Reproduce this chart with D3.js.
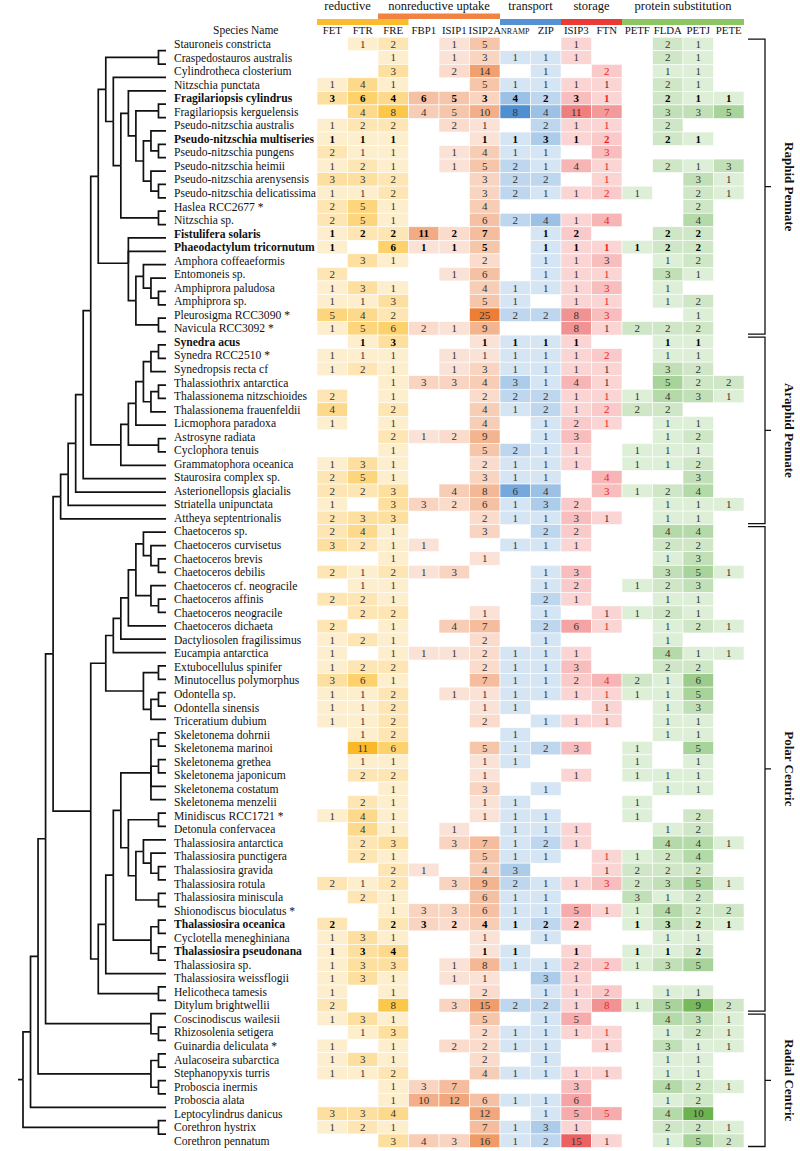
<!DOCTYPE html>
<html>
<head>
<meta charset="utf-8">
<script src="https://cdn.jsdelivr.net/npm/d3@7"></script>
<style>
  body { margin: 0; background: #fff; }
  text { font-family: "Liberation Serif", "Times New Roman", serif; }
</style>
</head>
<body>
<div class="plot"></div>
<script>
/* species, top to bottom */
const species = [
  "Stauroneis constricta", "Craspedostauros australis", "Cylindrotheca closterium", "Nitzschia punctata",
  "Fragilariopsis cylindrus", "Fragilariopsis kerguelensis", "Pseudo-nitzschia australis", "Pseudo-nitzschia multiseries",
  "Pseudo-nitzschia pungens", "Pseudo-nitzschia heimii", "Pseudo-nitzschia arenysensis", "Pseudo-nitzschia delicatissima",
  "Haslea RCC2677 *", "Nitzschia sp.", "Fistulifera solaris", "Phaeodactylum tricornutum",
  "Amphora coffeaeformis", "Entomoneis sp.", "Amphiprora paludosa", "Amphiprora sp.",
  "Pleurosigma RCC3090 *", "Navicula RCC3092 *", "Synedra acus", "Synedra RCC2510 *",
  "Synedropsis recta cf", "Thalassiothrix antarctica", "Thalassionema nitzschioides", "Thalassionema frauenfeldii",
  "Licmophora paradoxa", "Astrosyne radiata", "Cyclophora tenuis", "Grammatophora oceanica",
  "Staurosira complex sp.", "Asterionellopsis glacialis", "Striatella unipunctata", "Attheya septentrionalis",
  "Chaetoceros sp.", "Chaetoceros curvisetus", "Chaetoceros brevis", "Chaetoceros debilis",
  "Chaetoceros cf. neogracile", "Chaetoceros affinis", "Chaetoceros neogracile", "Chaetoceros dichaeta",
  "Dactyliosolen fragilissimus", "Eucampia antarctica", "Extubocellulus spinifer", "Minutocellus polymorphus",
  "Odontella sp.", "Odontella sinensis", "Triceratium dubium", "Skeletonema dohrnii",
  "Skeletonema marinoi", "Skeletonema grethea", "Skeletonema japonicum", "Skeletonema costatum",
  "Skeletonema menzelii", "Minidiscus RCC1721 *", "Detonula confervacea", "Thalassiosira antarctica",
  "Thalassiosira punctigera", "Thalassiosira gravida", "Thalassiosira rotula", "Thalassiosira miniscula",
  "Shionodiscus bioculatus *", "Thalassiosira oceanica", "Cyclotella meneghiniana", "Thalassiosira pseudonana",
  "Thalassiosira sp.", "Thalassiosira weissflogii", "Helicotheca tamesis", "Ditylum brightwellii",
  "Coscinodiscus wailesii", "Rhizosolenia setigera", "Guinardia deliculata *", "Aulacoseira subarctica",
  "Stephanopyxis turris", "Proboscia inermis", "Proboscia alata", "Leptocylindrus danicus",
  "Corethron hystrix", "Corethron pennatum"
];

const boldSpecies = [
  "Fragilariopsis cylindrus", "Pseudo-nitzschia multiseries", "Fistulifera solaris",
  "Phaeodactylum tricornutum", "Synedra acus", "Thalassiosira oceanica", "Thalassiosira pseudonana"
];

const genes = ["FET", "FTR", "FRE", "FBP1", "ISIP1", "ISIP2A", "NRAMP", "ZIP", "ISIP3", "FTN", "PETF", "FLDA", "PETJ", "PETE"];

/* functional groups: first and last gene of each bar */
const groupNames = ["reductive", "nonreductive uptake", "transport", "storage", "protein substitution"];
const groupFirst = ["FET", "FRE", "NRAMP", "ISIP3", "PETF"];
const groupLast = ["FRE", "ISIP2A", "ZIP", "FTN", "PETE"];
const geneFamily = [0, 0, 0, 1, 1, 1, 2, 2, 3, 3, 4, 4, 4, 4];

/* gene copy numbers, one row per species, in gene order (0 = none) */
const counts = [
  [0,1,2,0,1,5,0,0,1,0,0,2,1,0],
  [0,0,1,0,1,3,1,1,1,0,0,2,1,0],
  [0,0,3,0,2,14,0,1,0,2,0,1,1,0],
  [1,4,1,0,0,5,1,1,1,1,0,2,1,0],
  [3,6,4,6,5,3,4,2,3,1,0,2,1,1],
  [0,4,8,4,5,10,8,4,11,7,0,3,3,5],
  [1,2,2,0,2,1,0,2,1,1,0,2,0,0],
  [1,1,1,0,0,1,1,3,1,2,0,2,1,0],
  [2,1,1,0,1,4,1,1,0,3,0,0,0,0],
  [1,2,1,0,1,5,2,1,4,1,0,2,1,3],
  [3,3,2,0,0,3,2,2,0,1,0,0,3,1],
  [1,1,2,0,0,3,2,1,1,2,1,0,2,1],
  [2,5,1,0,0,4,0,0,0,0,0,0,2,0],
  [2,5,1,0,0,6,2,4,1,4,0,0,4,0],
  [1,2,2,11,2,7,0,1,2,0,0,2,2,0],
  [1,0,6,1,1,5,0,1,1,1,1,2,2,0],
  [0,3,1,0,0,2,0,1,1,3,0,1,2,0],
  [2,0,0,0,1,6,0,1,1,1,0,3,1,0],
  [1,3,1,0,0,4,1,1,1,3,0,1,0,0],
  [1,1,3,0,0,5,1,0,1,1,0,1,2,0],
  [5,4,2,0,0,25,2,2,8,3,0,0,1,0],
  [1,5,6,2,1,9,0,0,8,1,2,2,2,0],
  [0,1,3,0,0,1,1,1,1,0,0,1,1,0],
  [1,1,1,0,1,1,1,1,1,2,0,1,1,0],
  [1,2,1,0,1,3,1,1,1,1,0,3,2,0],
  [0,0,1,3,3,4,3,1,4,1,0,5,2,2],
  [2,0,1,0,0,2,2,2,1,1,1,4,3,1],
  [4,0,2,0,0,4,1,2,1,2,2,2,0,0],
  [1,0,1,0,0,4,0,1,2,1,0,1,1,0],
  [0,0,2,1,2,9,0,1,3,0,0,1,2,0],
  [0,0,1,0,0,5,2,1,1,0,1,1,1,0],
  [1,3,1,0,0,2,1,1,1,0,1,1,2,0],
  [2,5,1,0,0,3,1,1,0,4,0,0,3,0],
  [2,2,3,0,4,8,6,4,0,3,1,2,4,0],
  [1,0,3,3,2,6,1,3,2,0,0,1,1,1],
  [2,3,3,0,0,2,1,1,3,1,0,1,1,0],
  [2,4,1,0,0,3,0,2,2,0,0,4,4,0],
  [3,2,1,1,0,0,1,1,1,0,0,2,2,0],
  [0,0,1,0,0,1,0,0,0,0,0,1,3,0],
  [2,1,2,1,3,0,0,1,3,0,0,3,5,1],
  [0,1,1,0,0,0,0,1,2,0,1,2,3,0],
  [2,2,1,0,0,0,0,2,1,0,0,1,1,0],
  [0,2,2,0,0,1,0,1,0,1,1,2,1,0],
  [2,0,1,0,4,7,0,2,6,1,0,1,2,1],
  [1,2,1,0,0,2,0,1,0,0,0,1,0,0],
  [1,0,1,1,1,2,1,1,1,0,0,4,1,1],
  [1,2,2,0,0,2,1,1,3,0,0,2,2,0],
  [3,6,1,0,0,7,1,1,2,4,2,1,6,0],
  [1,1,2,0,1,1,1,1,1,1,1,1,5,0],
  [1,1,2,0,0,1,1,0,0,1,0,1,3,0],
  [1,1,2,0,0,2,0,1,1,1,0,1,1,0],
  [0,1,2,0,0,0,1,0,0,0,0,1,1,0],
  [0,11,6,0,0,5,1,2,3,0,1,0,5,0],
  [0,1,1,0,0,1,1,0,0,0,1,0,1,0],
  [0,2,2,0,0,1,0,0,1,0,1,1,1,0],
  [0,0,1,0,0,3,0,1,0,0,0,1,1,0],
  [0,2,1,0,0,1,1,0,0,0,1,0,0,0],
  [1,4,1,0,0,1,1,1,0,0,1,0,2,0],
  [0,4,1,0,1,0,1,1,1,0,0,1,2,0],
  [0,2,3,0,3,7,1,2,1,0,0,4,4,1],
  [0,2,1,0,0,5,1,1,0,1,1,2,4,0],
  [0,0,2,1,0,4,3,0,0,1,2,2,2,0],
  [2,1,2,0,3,9,2,1,1,3,2,3,5,1],
  [0,2,1,0,0,6,1,1,0,0,3,1,2,0],
  [0,0,1,3,3,6,1,1,5,1,1,4,2,2],
  [2,0,2,3,2,4,1,2,2,0,1,3,2,1],
  [1,3,1,0,0,1,0,1,0,0,0,1,1,0],
  [1,3,4,0,0,1,1,0,1,0,1,1,2,0],
  [1,3,3,0,1,8,1,1,2,2,1,3,5,0],
  [1,3,1,0,1,1,0,3,1,0,0,0,0,0],
  [1,0,1,0,0,2,0,1,1,2,0,1,1,0],
  [2,0,8,0,3,15,2,2,1,8,1,5,9,2],
  [1,3,1,0,0,5,0,1,5,0,0,4,3,1],
  [0,1,3,0,0,2,1,1,1,1,0,1,2,1],
  [1,0,1,0,2,2,1,1,0,1,0,3,1,1],
  [1,3,1,0,0,2,0,1,0,0,0,1,1,0],
  [1,1,2,0,0,4,1,1,1,1,0,1,1,0],
  [0,0,1,3,7,0,0,0,3,0,0,4,2,1],
  [0,0,1,10,12,6,1,1,6,0,0,1,2,0],
  [3,3,4,0,0,12,0,1,5,5,0,4,10,0],
  [1,2,1,0,0,7,1,3,1,0,0,2,2,1],
  [0,0,3,4,3,16,1,2,15,1,0,1,5,2]
];

/* rows (1-based) whose FTN number is printed in red */
const redFTN = [3,5,6,7,8,9,10,11,12,14,16,18,19,20,21,24,27,28,29,33,34,44,48,49,61,63,69,71,72,74,80];

/* clades on the right: name, first row, last row */
const cladeNames = ["Raphid Pennate", "Araphid Pennate", "Polar Centric", "Radial Centric"];
const cladeFirst = [1, 23, 37, 73];
const cladeLast = [22, 36, 72, 82];

/* tree topology, leaves are row numbers */
const raphid = [
  [[1,2], [3, [[4, [[5,6], [[7,[8,9]], [10,[11,12]]]]], [13,14]]]],
  [15, 16, [[17,[18,[19,20]]], [21,22]]]
];
const araphid = [[[[[[23,24],25], [[26,27],28]], 29], [30,31]], 32];
const pennates = [[[[[raphid, araphid], 33], 34], 35], 36];
const chaeto = [[37,[38,[39,40]]], [41,[42,43]]];
const polarA = [[[[chaeto, 44], 45], 46], [[47,48], [[49,50],51]]];
const thalass = [[[[[[52,53],[54,55],56,57], [[58,59], [[60,[61,[62,63]]], [64,65]]]], [[66,67],[68,69]]], 70], [71,72]];
const tree = [[[[[pennates, [polarA, thalass]], [73,[74,75]]], [[76,77],[78,79]]], 80], [81,82]];

/* colour ramps per family */
const familyStops = [
  [1, 2, 4, 8, 11],
  [1, 5, 12, 25],
  [1, 2, 4, 8],
  [1, 3, 8, 15],
  [1, 2, 5, 10]
];
const familyRamps = [
  ["#fdeecd", "#fde6b4", "#fdd98c", "#fcc84a", "#fbb92a"],
  ["#fbe2d7", "#f6c6ab", "#f1a67b", "#ee7e36"],
  ["#d5e5f3", "#bed6ee", "#9cc1e5", "#4e8fd2"],
  ["#fbd4d4", "#f8bdbd", "#f29393", "#ec6262"],
  ["#deefd8", "#cfe7c7", "#a8d39a", "#6cb24f"]
];
const barColors = ["#fbbb2e", "#f28242", "#5692d3", "#eb3a34", "#8cc663"];

const W = 800, H = 1151;
const svg = d3.select(".plot").append("svg")
  .attr("width", W)
  .attr("height", H);

/* scales */
const y = d3.scaleBand().domain(species).range([37.2, 1147.5]);
const x = d3.scaleBand().domain(genes).range([317, 744]);
const colorScales = familyStops.map((s, i) =>
  d3.scaleLinear().domain(s).range(familyRamps[i]).interpolate(d3.interpolateRgb).clamp(true));

/* dendrogram */
const root = d3.hierarchy(tree, d => Array.isArray(d) ? d : null);
const treeLeft = 23, treeRight = 166;
d3.cluster()
  .size([y.range()[1] - y.range()[0] - y.bandwidth(), treeRight - treeLeft])
  .separation(() => 1)(root);

const gTree = svg.append("g")
  .attr("transform", `translate(${treeLeft},${y.range()[0] + y.bandwidth() / 2})`);

gTree.selectAll("path")
  .data(root.links())
  .join("path")
    .attr("d", l => `M${l.source.y},${l.source.x}V${l.target.x}H${l.target.y}`)
    .attr("fill", "none")
    .attr("stroke", "#111")
    .attr("stroke-width", 1.7);

gTree.append("path")
  .attr("d", `M${root.y - 5},${root.x}H${root.y}`)
  .attr("stroke", "#111")
  .attr("stroke-width", 1.7);

/* species names */
svg.append("g")
  .selectAll("text")
  .data(species)
  .join("text")
    .attr("x", 174)
    .attr("y", d => y(d) + y.bandwidth() / 2)
    .attr("dy", "0.35em")
    .attr("font-size", 11.6)
    .attr("font-weight", d => boldSpecies.includes(d) ? "bold" : null)
    .attr("fill", "#111")
    .text(d => d);

/* cells */
const cells = [];
counts.forEach((row, i) => row.forEach((v, j) => {
  if (v > 0) cells.push({sp: species[i], row: i + 1, gene: genes[j], fam: geneFamily[j], v});
}));

svg.append("g")
  .selectAll("rect")
  .data(cells)
  .join("rect")
    .attr("x", d => x(d.gene))
    .attr("y", d => y(d.sp))
    .attr("width", x.bandwidth())
    .attr("height", y.bandwidth())
    .attr("fill", d => colorScales[d.fam](d.v))
    .attr("stroke", "#fff")
    .attr("stroke-width", 0.6);

svg.append("g")
  .selectAll("text")
  .data(cells)
  .join("text")
    .attr("x", d => x(d.gene) + x.bandwidth() / 2)
    .attr("y", d => y(d.sp) + y.bandwidth() / 2)
    .attr("dy", "0.35em")
    .attr("text-anchor", "middle")
    .attr("font-size", 11)
    .attr("font-weight", d => boldSpecies.includes(d.sp) ? "bold" : null)
    .attr("fill", d => d.gene === "FTN" && redFTN.includes(d.row) ? "#e8262a" : (boldSpecies.includes(d.sp) ? "#000" : "#333"))
    .text(d => d.v);

/* header: group bars and labels */
const groups = groupNames.map((name, i) => ({
  name,
  x0: x(groupFirst[i]),
  x1: x(groupLast[i]) + x.bandwidth(),
  upper: i === 1,
  color: barColors[i]
}));

svg.append("g")
  .selectAll("rect")
  .data(groups)
  .join("rect")
    .attr("x", d => d.x0)
    .attr("y", d => d.upper ? 13.5 : 19)
    .attr("width", d => d.x1 - d.x0)
    .attr("height", d => d.upper ? 5.5 : 6)
    .attr("fill", d => d.color);

svg.append("g")
  .selectAll("text")
  .data(groups)
  .join("text")
    .attr("x", (d, i) => i === 0 ? x("FET") + x.bandwidth() : (d.x0 + d.x1) / 2)
    .attr("y", 10)
    .attr("text-anchor", "middle")
    .attr("font-size", 12.5)
    .attr("fill", "#111")
    .text(d => d.name);

/* column labels */
svg.append("g")
  .selectAll("text")
  .data(genes)
  .join("text")
    .attr("x", d => x(d) + x.bandwidth() / 2)
    .attr("y", 34)
    .attr("text-anchor", "middle")
    .attr("font-size", d => d === "NRAMP" ? 8 : 10.8)
    .attr("fill", "#111")
    .text(d => d);

svg.append("text")
  .attr("x", 213)
  .attr("y", 34)
  .attr("font-size", 11.5)
  .attr("fill", "#111")
  .text("Species Name");

/* clade brackets on the right */
const clades = cladeNames.map((name, i) => ({
  name,
  top: y(species[cladeFirst[i] - 1]) + 2,
  bottom: y(species[cladeLast[i] - 1]) + y.bandwidth() - 1
}));

const gClade = svg.append("g");
gClade.selectAll("path")
  .data(clades)
  .join("path")
    .attr("d", d => {
      const m = (d.top + d.bottom) / 2;
      return `M748,${d.top}H765V${d.bottom}H748M765,${m}H771`;
    })
    .attr("fill", "none")
    .attr("stroke", "#111")
    .attr("stroke-width", 1.3);

gClade.selectAll("text")
  .data(clades)
  .join("text")
    .attr("transform", d => `translate(785,${(d.top + d.bottom) / 2}) rotate(90)`)
    .attr("text-anchor", "middle")
    .attr("font-size", 13)
    .attr("font-weight", "bold")
    .attr("fill", "#111")
    .text(d => d.name);
</script>
</body>
</html>
